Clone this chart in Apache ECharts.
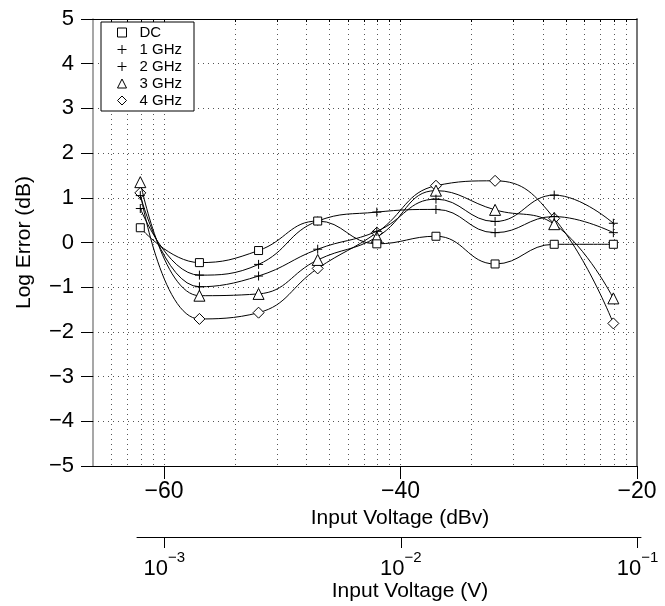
<!DOCTYPE html>
<html>
<head>
<meta charset="utf-8">
<script src="https://cdn.jsdelivr.net/npm/echarts@6/dist/echarts.min.js"></script>
<style>
html,body{margin:0;padding:0;background:#fff;}
#c{width:665px;height:606px;}
</style>
</head>
<body>
<div id="c"></div>
<script>
// ---- data ----
const xPts = [-62, -57, -52, -47, -42, -37, -32, -27, -22];      // input voltage (dBv)
const seriesNames = ['DC', '1 GHz', '2 GHz', '3 GHz', '4 GHz'];
const dcErr  = [0.33, -0.45, -0.18, 0.48, -0.03, 0.14, -0.48, -0.04, -0.04];
const g1Err  = [0.76, -0.73, -0.49, 0.48, 0.68, 0.74, 0.22, 0.58, 0.22];
const g2Err  = [1.05, -0.99, -0.75, -0.15, 0.25, 0.97, 0.47, 1.06, 0.43];
const g3Err  = [1.35, -1.19, -1.15, -0.39, 0.12, 1.16, 0.73, 0.41, -1.25];
const g4Err  = [1.11, -1.71, -1.57, -0.58, 0.22, 1.27, 1.38, 0.54, -1.81];
const dbvTicks = [-60, -40, -20];
const voltExp = ['-3', '-2', '-1'];          // 10^exp labels at the dBv ticks
const yTicks = [-5, -4, -3, -2, -1, 0, 1, 2, 3, 4, 5];

// log-voltage minor grid positions (in dBv)
const gridDb = [];
[-4, -3, -2].forEach(e => {
  for (let m = 1; m <= 9; m++) {
    const db = 20 * Math.log10(m * Math.pow(10, e));
    if (db > -66 && db < -20) gridDb.push(db);
  }
});

const minus = s => String(s).replace('-', '\u2212');
const PLUS = 'path://M5,0L5,10M0,5L10,5';
const symbols = ['rect', PLUS, PLUS, 'triangle', 'diamond'];
const symSizes = [8, 9, 9, 11, 11];
const allY = [dcErr, g1Err, g2Err, g3Err, g4Err];

const FONT = 'Liberation Sans';
const chart = echarts.init(document.getElementById('c'), null, {renderer: 'canvas'});

const series = allY.map((ys, i) => ({
  name: seriesNames[i],
  type: 'line',
  xAxisIndex: 0,
  yAxisIndex: 0,
  smooth: 0.45,
  data: xPts.map((x, j) => [x, ys[j]]),
  symbol: symbols[i],
  symbolSize: symSizes[i],
  showAllSymbol: true,
  lineStyle: {color: '#000', width: 1},
  itemStyle: {color: '#fff', borderColor: '#000', borderWidth: 1},
  emphasis: {disabled: true},
  z: 5 - i + 2
}));

chart.setOption({
  animation: false,
  backgroundColor: '#fff',
  textStyle: {fontFamily: FONT},
  grid: [
    {left: 93, right: 28, top: 19, bottom: 140},
    {left: 137, right: 24, top: 520, bottom: 69}
  ],
  legend: {
    orient: 'vertical',
    left: 101, top: 22,
    padding: [3, 12, 3, 16],
    itemGap: 2,
    itemWidth: 9, itemHeight: 9,
    backgroundColor: '#fff',
    borderColor: '#000', borderWidth: 1,
    textStyle: {fontFamily: FONT, fontSize: 15, color: '#000', padding: [0, 0, 0, 8]},
    itemStyle: {color: '#fff', borderColor: '#000', borderWidth: 1},
    data: seriesNames.map((n, i) => ({name: n, icon: symbols[i]})),
    z: 20
  },
  xAxis: [
    { // primary dBv axis (bottom)
      gridIndex: 0, type: 'value', min: -66, max: -20, position: 'bottom',
      axisLine: {show: true, onZero: false, lineStyle: {color: '#000', width: 1}},
      axisTick: {show: true, inside: false, length: 13, customValues: dbvTicks, lineStyle: {color: '#000'}},
      axisLabel: {show: true, customValues: dbvTicks, margin: 14, fontSize: 23, color: '#000', fontFamily: FONT,
                  formatter: v => minus(v)},
      splitLine: {show: false},
      name: 'Input Voltage (dBv)', nameLocation: 'middle', nameGap: 37,
      nameTextStyle: {fontSize: 21, color: '#000', fontFamily: FONT, padding: [0, 0, 0, 70]}
    },
    { // secondary voltage axis
      gridIndex: 1, type: 'value', min: -62.3, max: -19.7, position: 'bottom',
      axisLine: {show: true, onZero: false, lineStyle: {color: '#000', width: 1}},
      axisTick: {show: true, length: 11, customValues: dbvTicks, lineStyle: {color: '#000'}},
      axisLabel: {show: true, customValues: dbvTicks, margin: 13, color: '#000', fontFamily: FONT,
                  formatter: v => '{b|10}{s|' + minus(voltExp[dbvTicks.indexOf(v)]) + '}',
                  rich: {
                    b: {fontSize: 22, fontFamily: FONT, color: '#000', padding: [8, 0, 0, 0]},
                    s: {fontSize: 15, fontFamily: FONT, color: '#000', verticalAlign: 'top'}
                  }},
      splitLine: {show: false},
      name: 'Input Voltage (V)', nameLocation: 'middle', nameGap: 44,
      nameTextStyle: {fontSize: 21, color: '#000', fontFamily: FONT, padding: [0, 0, 0, 42]}
    },
    { // log grid lines + top border
      gridIndex: 0, type: 'value', min: -66, max: -20, position: 'top',
      axisLine: {show: true, onZero: false, lineStyle: {color: '#000', width: 1}},
      axisTick: {show: true, inside: true, length: 3, customValues: gridDb, lineStyle: {color: '#000'}},
      axisLabel: {show: false},
      splitLine: {show: true, lineStyle: {color: '#555', width: 1, type: [1, 4]}}
    }
  ],
  yAxis: [
    {
      gridIndex: 0, type: 'value', min: -5, max: 5, interval: 1, position: 'left',
      axisLine: {show: true, onZero: false, lineStyle: {color: '#8a8a8a', width: 1.5}},
      axisTick: {show: true, inside: false, length: 12, lineStyle: {color: '#000'}},
      axisLabel: {show: true, margin: 19, fontSize: 22, color: '#000', fontFamily: FONT,
                  formatter: v => minus(v)},
      splitLine: {show: true, lineStyle: {color: '#555', width: 1, type: [1, 4]}},
      name: 'Log Error (dB)', nameLocation: 'middle', nameGap: 58, nameRotate: 90,
      nameTextStyle: {fontSize: 21, color: '#000', fontFamily: FONT}
    },
    {
      gridIndex: 0, type: 'value', min: -5, max: 5, interval: 1, position: 'right',
      axisLine: {show: true, onZero: false, lineStyle: {color: '#777', width: 2}},
      axisTick: {show: false}, axisLabel: {show: false}, splitLine: {show: false}
    },
    {
      gridIndex: 1, type: 'value', show: false, min: 0, max: 1
    }
  ],
  series: series
});
</script>
</body>
</html>
